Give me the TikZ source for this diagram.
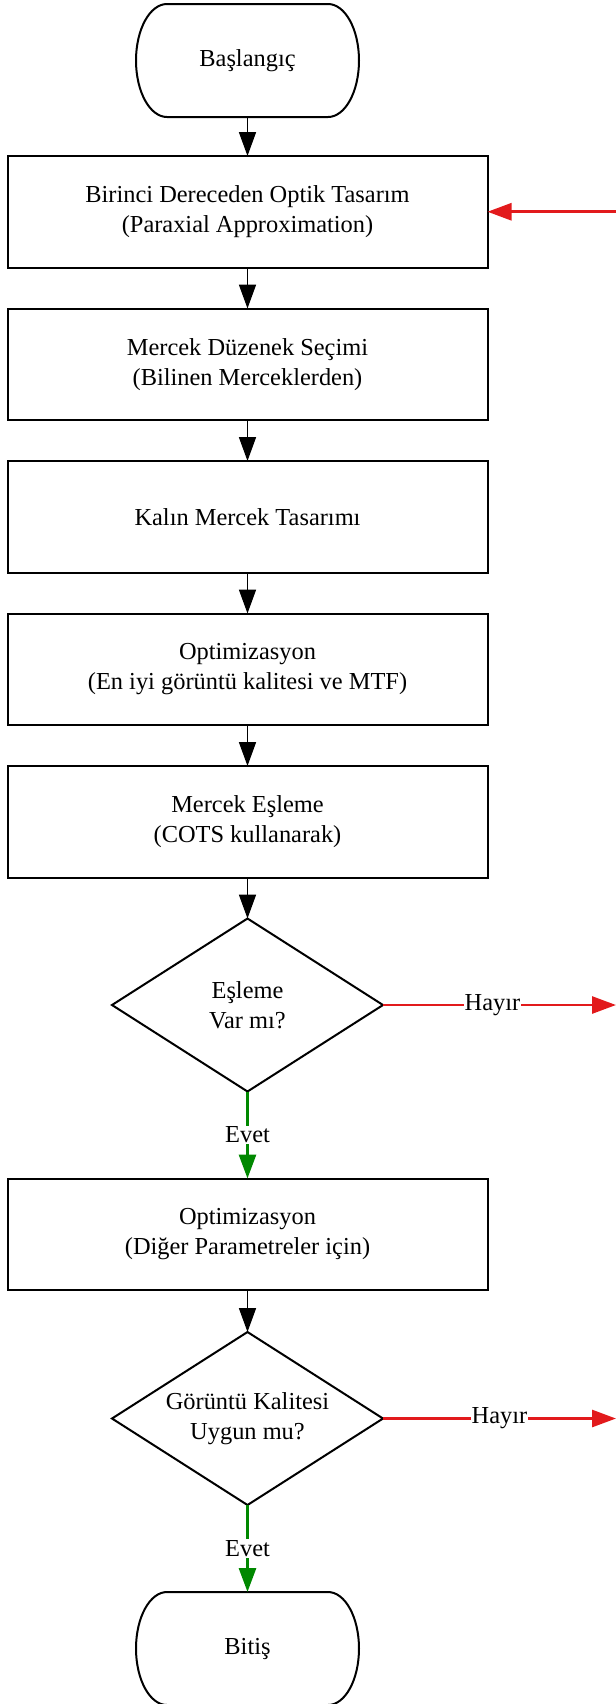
\documentclass[tikz,border=0pt]{standalone}
\usepackage{fontspec}
\setmainfont{Liberation Serif}
\usetikzlibrary{positioning, shapes.geometric, arrows.meta}
\definecolor{hayirred}{RGB}{226,26,28}
\definecolor{evetgreen}{RGB}{0,136,0}

\begin{document}
\begin{tikzpicture}[
    x = 0.5pt, y = -0.5pt,
    line width = 1pt,
    font = \fontsize{12.2}{15}\selectfont,
    every node/.style = {outer sep = 0pt, align = center},
    terminal/.style = {rectangle, minimum width = 111.5pt, minimum height = 56.5pt},
    process/.style = {draw, rectangle, minimum width = 240pt, minimum height = 55.75pt},
    decision/.style = {draw, diamond, aspect = 1.57, inner sep = 0pt, minimum width = 135.5pt, minimum height = 86.5pt},
    > = {Triangle[length = 12pt, width = 8.5pt]}
]
\useasboundingbox (0,0) rectangle (616,1704);

\node[terminal] (start) at (247.5, 60.5) {Başlangıç};
\node[process] (paraxial) [below = 19.5pt of start] {Birinci Dereceden Optik Tasarım\\(Paraxial Approximation)};
\node[process] (selection) [below = 20.5pt of paraxial] {Mercek Düzenek Seçimi\\(Bilinen Merceklerden)};
\node[process] (thick) [below = 20.5pt of selection] {Kalın Mercek Tasarımı};
\node[process] (optimum) [below = 20.5pt of thick] {Optimizasyon\\(En iyi görüntü kalitesi ve MTF)};
\node[process] (cots) [below = 20.5pt of optimum] {Mercek Eşleme\\(COTS kullanarak)};
\node[decision] (match) [below = 20.5pt of cots] {Eşleme\\Var mı?};
\node[process] (params) [below = 43.5pt of match] {Optimizasyon\\(Diğer Parametreler için)};
\node[decision] (quality) [below = 21pt of params] {Görüntü Kalitesi\\Uygun mu?};
\node[terminal] (finish) [below = 43.5pt of quality] {Bitiş};

% terminal outlines
\foreach \t in {start, finish}
  \draw ([xshift = 15.5pt] \t.north west) -- ([xshift = -15.5pt] \t.north east)
    arc[start angle = 90, end angle = -90, x radius = 15.5pt, y radius = 28.25pt]
    -- ([xshift = 15.5pt] \t.south west)
    arc[start angle = 270, end angle = 90, x radius = 15.5pt, y radius = 28.25pt] -- cycle;

\coordinate (back) at ([xshift = 64.5pt] paraxial.east);
\coordinate (nomatch) at ([xshift = 116.5pt] match.east);
\coordinate (nofit) at ([xshift = 116.5pt] quality.east);

% arrows
\path[->, line width = 0.9pt]
(start) edge (paraxial)
(paraxial) edge (selection)
(selection) edge (thick)
(thick) edge (optimum)
(optimum) edge (cots)
(cots) edge (match)
(params) edge (quality);
\path[->, line width = 1.4pt, every node/.style = {fill = white, inner sep = 0.5pt}]
(back) edge[draw = hayirred] (paraxial)
(match) edge[draw = hayirred] node[pos = 0.47] {Hayır} (nomatch)
(match) edge[draw = evetgreen] node {Evet} (params)
(quality) edge[draw = hayirred] node {Hayır} (nofit)
(quality) edge[draw = evetgreen] node {Evet} (finish);

\end{tikzpicture}
\end{document}
